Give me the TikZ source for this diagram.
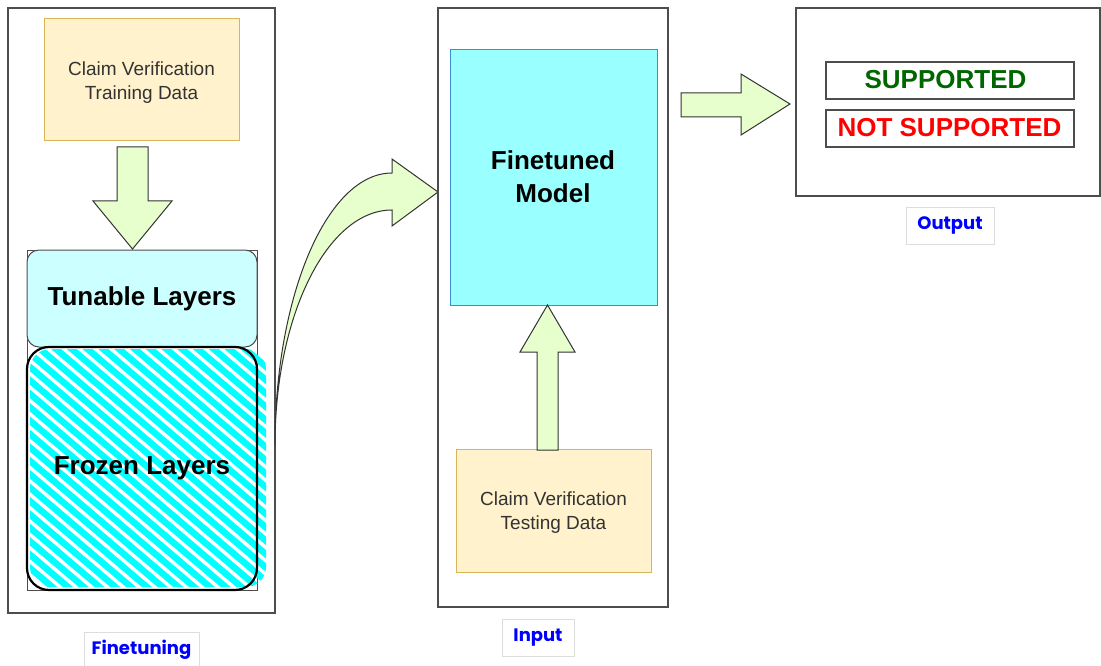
\documentclass[tikz,border=0pt]{standalone}
\usepackage{fontspec}
\setmainfont{Liberation Sans}
\newfontfamily\tagfont{Poppins}
\definecolor{datafill}{HTML}{FFF2CC}
\definecolor{dataline}{HTML}{D6B656}
\definecolor{arrowfill}{HTML}{E6FFCC}
\definecolor{tunefill}{HTML}{CCFFFF}
\definecolor{modelfill}{HTML}{99FFFF}
\definecolor{modelline}{HTML}{3C8CD8}
\definecolor{framegray}{HTML}{4D4D4D}
\definecolor{txtgray}{HTML}{333333}
\definecolor{okgreen}{HTML}{006600}
\definecolor{tagline}{HTML}{DDDDDD}
\definecolor{tagblue}{HTML}{0000FF}
\definecolor{hatchcyan}{HTML}{00FFFF}
\tikzset{
  panel/.style={draw=framegray, line width=1.2, fill=white, inner sep=0},
  databox/.style={draw=dataline, fill=datafill, line width=1, inner sep=0},
  datatext/.style={align=center, inner sep=0, text=txtgray, font=\fontsize{19}{24}\selectfont},
  blockarrow/.style={draw=black!80, fill=arrowfill, line width=1, line join=miter},
  layerbox/.style={inner sep=0, align=center, font=\bfseries\fontsize{26}{33}\selectfont},
  result/.style={draw=framegray, line width=1.2, fill=white, inner sep=0,
    minimum width=248, minimum height=37},
  resulttext/.style={inner sep=0, font=\bfseries\fontsize{26}{30}\selectfont},
  tagbox/.style={draw=tagline, fill=white, line width=1, inner sep=0,
    text=tagblue, font=\tagfont\bfseries\fontsize{18}{20}\selectfont},
}
\begin{document}
\begin{tikzpicture}[x=1pt,y=-1pt]
\useasboundingbox (0,0) rectangle (1101,666);

% ---- finetuning stage ----
\node[panel, minimum width=267, minimum height=605] (trainpanel) at (141.5,310.5) {};
\node[databox, minimum width=195, minimum height=122] (traindata) at (141.5,80) {};
\node[datatext] (traintext) at (141.5,82.5) {Claim Verification\\Training Data};
\node[draw=framegray, line width=0.8, inner sep=0, minimum width=230, minimum height=340]
  (layerframe) at (142,420) {};
\node[layerbox, draw=framegray, line width=1, fill=tunefill, rounded corners=12,
  minimum width=230, minimum height=97] (tunable) at (142,298.5) {Tunable Layers};

% hatched frozen block
\begin{scope}
  \clip[rounded corners=20] (30,349) rectangle (266,587);
  \foreach \k in {0,...,40}
    \draw[hatchcyan, line width=6.5] (-20,330+\k*13.4-260) -- ++(320,272);
\end{scope}
\node[layerbox, draw=black, line width=2.2, rounded corners=22,
  minimum width=230, minimum height=243] (frozen) at (142,468.5) {};
\node[layerbox] (frozentext) at (142,468) {Frozen Layers};

\draw[blockarrow] (117,147) -- (148,147) -- (148,201) -- (172,201) -- (132.5,249)
  -- (93,201) -- (117,201) -- cycle;

\node[tagbox, minimum width=115, minimum height=36] (tagtrain) at (141.5,650) {Finetuning};

% ---- curved transfer arrow ----
\draw[blockarrow] (275,445) .. controls (275,294.8) and (327.4,173) .. (392,173)
  -- (392,159) -- (438,192) -- (392,226) -- (392,210)
  .. controls (327.4,210) and (275,315.2) .. (275,445) -- cycle;

% ---- inference stage ----
\node[panel, minimum width=230, minimum height=599] (modelpanel) at (553,307.5) {};
\node[layerbox, draw=modelline, line width=1, fill=modelfill,
  minimum width=207, minimum height=255] (model) at (553.5,177.5) {};
\node[layerbox] (modeltext) at (553,177) {Finetuned\\Model};
\node[databox, minimum width=195, minimum height=123] (testdata) at (553.5,510.5) {};
\node[datatext] (testtext) at (553.5,512.5) {Claim Verification\\Testing Data};
\draw[blockarrow] (537,450) -- (558,450) -- (558,352) -- (575,352) -- (547.5,305)
  -- (520,352) -- (537,352) -- cycle;
\node[tagbox, minimum width=72, minimum height=37] (taginput) at (538,637.5) {Input};

% ---- output stage ----
\draw[blockarrow] (681,93) -- (741,93) -- (741,74) -- (790,104) -- (741,135)
  -- (741,117) -- (681,117) -- cycle;
\node[panel, minimum width=304, minimum height=188] (outpanel) at (948,102) {};
\node[result] (supported) at (950,80.5) {};
\node[resulttext, text=okgreen] (supportedtext) at (945.5,79.5) {SUPPORTED};
\node[result] (notsupported) at (950,128.5) {};
\node[resulttext, text=red] (notsupportedtext) at (949.5,127.5) {NOT SUPPORTED};
\node[tagbox, minimum width=88, minimum height=37] (tagoutput) at (950,225.5) {Output};
\end{tikzpicture}
\end{document}
